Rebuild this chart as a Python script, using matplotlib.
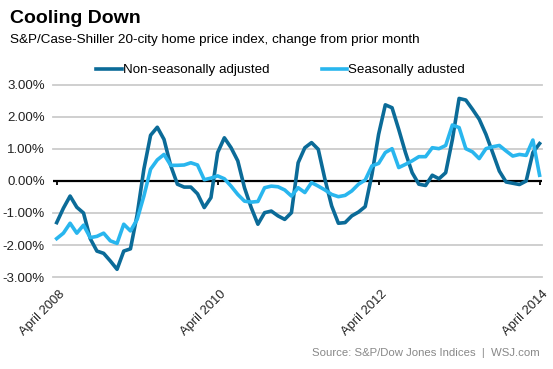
import numpy as np
import matplotlib
matplotlib.use('Agg')
import matplotlib.pyplot as plt
import matplotlib.transforms as mtransforms

plt.rcParams['font.family'] = ['Liberation Sans', 'DejaVu Sans']

# monthly change, April 2008 .. April 2014 (73 months)
nsa = [-1.30, -0.85, -0.47, -0.82, -1.00, -1.80, -2.19, -2.26, -2.50, -2.76, -2.19, -2.12,
       -1.05, 0.37, 1.43, 1.68, 1.30, 0.48, -0.10, -0.19, -0.19, -0.40, -0.83, -0.52,
       0.89, 1.35, 1.04, 0.63, -0.21, -0.83, -1.35, -0.99, -0.94, -1.09, -1.20, -0.99,
       0.57, 1.04, 1.20, 0.99, 0.05, -0.78, -1.32, -1.30, -1.09, -0.97, -0.80, 0.20,
       1.46, 2.38, 2.29, 1.61, 0.89, 0.26, -0.10, -0.14, 0.18, 0.07, 0.26, 1.30,
       2.58, 2.53, 2.24, 1.93, 1.46, 0.89, 0.31, -0.03, -0.07, -0.11, 0.00, 0.89, 1.17]
sa = [-1.80, -1.63, -1.32, -1.63, -1.38, -1.77, -1.73, -1.63, -1.87, -1.95, -1.35, -1.56,
      -1.20, -0.47, 0.37, 0.66, 0.83, 0.49, 0.49, 0.50, 0.57, 0.50, 0.04, 0.09,
      0.16, 0.07, -0.16, -0.42, -0.63, -0.66, -0.64, -0.21, -0.16, -0.18, -0.28, -0.47,
      -0.21, -0.36, -0.05, -0.16, -0.28, -0.42, -0.49, -0.45, -0.31, -0.10, 0.03, 0.47,
      0.55, 0.89, 1.01, 0.42, 0.52, 0.63, 0.76, 0.76, 1.04, 1.01, 1.11, 1.75,
      1.67, 1.01, 0.91, 0.70, 1.01, 1.07, 1.11, 0.94, 0.78, 0.83, 0.80, 1.28, 0.18]
tick_months = [0, 24, 48, 72]
tick_labels = ['April 2008', 'April 2010', 'April 2012', 'April 2014']
y_ticks = [3, 2, 1, 0, -1, -2, -3]

dark = '#0b6b98'
light = '#29b6ee'

fig = plt.figure(figsize=(5.53, 3.69), dpi=100)
ax = fig.add_axes([53/553, (369-277)/369, 489/553, 192/369])

months = np.arange(len(nsa))
for v in y_ticks:
    if v != 0:
        ax.axhline(v, color='#cccccc', lw=1.3, zorder=1, clip_on=False)
ax.axhline(0, color='black', lw=1.6, zorder=2)
ax.vlines(tick_months, -0.12, 0.0, color='black', lw=1.3, zorder=2)

ax.plot(months, nsa, color=dark, lw=2.6, zorder=3, solid_joinstyle='round',
        label='Non-seasonally adjusted')
ax.plot(months, sa, color=light, lw=2.6, zorder=3, solid_joinstyle='round',
        label='Seasonally adusted')

ax.set_xlim(-0.55, 72.36)
ax.set_ylim(-3, 3)
ax.set_yticks(y_ticks)
ax.set_yticklabels(['%.2f%%' % v for v in y_ticks], fontsize=9.5, color='#222222')
ax.set_xticks(tick_months)
ax.set_xticklabels(tick_labels, rotation=45, ha='right', va='top',
                   rotation_mode='anchor', fontsize=9.3, color='#222222')
ax.tick_params(axis='both', length=0)
ax.tick_params(axis='y', pad=6)
ax.tick_params(axis='x', pad=8)
for lbl in ax.get_xticklabels():
    lbl.set_transform(lbl.get_transform() + mtransforms.ScaledTranslation(2/100, 0, fig.dpi_scale_trans))
for s in ax.spines.values():
    s.set_visible(False)

fig.text(10/553, 1 - 23/369, 'Cooling Down', fontsize=14, fontweight='bold', color='black')
fig.text(10/553, 1 - 43/369, 'S&P/Case-Shiller 20-city home price index, change from prior month',
         fontsize=9.7, color='black')

leg = fig.legend(loc='center left', bbox_to_anchor=(91/553, 1 - 70/369), ncol=2,
                 frameon=False, fontsize=9.6, handlelength=1.9, handletextpad=0.1,
                 columnspacing=3.9, borderaxespad=0)
for line in leg.get_lines():
    line.set_linewidth(2.6)

fig.text(540/553, 1 - 356/369, 'Source: S&P/Dow Jones Indices  |  WSJ.com',
         fontsize=8.2, color='#888888', ha='right')

fig.savefig('out.png', dpi=100)
